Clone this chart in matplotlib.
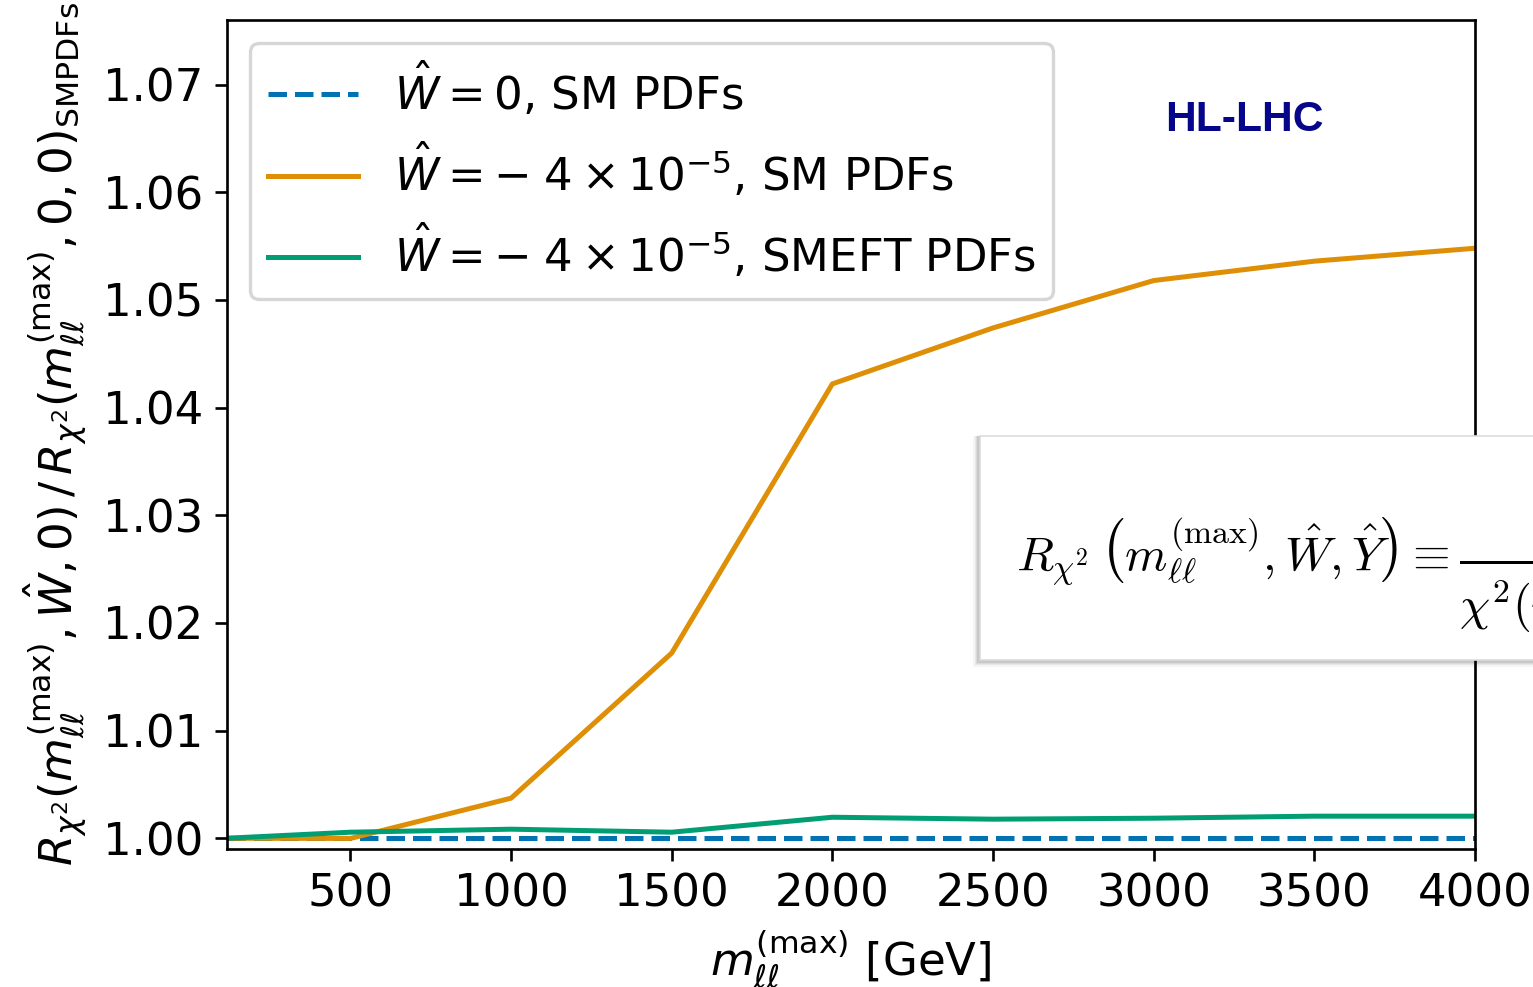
import numpy as np
import matplotlib
matplotlib.use("Agg")
import matplotlib.pyplot as plt
from matplotlib.patches import Rectangle

# ----------------------------------------
# Data
# ----------------------------------------
m_max = [116, 500, 1000, 1500, 2000, 2500, 3000, 3500, 4000]
r_sm_w0 = [1.0, 1.0, 1.0, 1.0, 1.0, 1.0, 1.0, 1.0, 1.0]
r_sm_w = [1.0, 0.99998, 1.00372, 1.0172, 1.0422, 1.0474, 1.0518, 1.0536, 1.0548]
r_smeft_w = [1.0, 1.00056, 1.00084, 1.00056, 1.00195, 1.00177, 1.00186, 1.00205, 1.00205]

labels = [
    r"$\hat{W} = 0$, SM PDFs",
    r"$\hat{W} = -\;4\times10^{-5}$, SM PDFs",
    r"$\hat{W} = -\;4\times10^{-5}$, SMEFT PDFs",
]
colors = ["#0173b2", "#de8f05", "#029e73"]

# ----------------------------------------
# Plotting
# ----------------------------------------
plt.rcParams["font.size"] = 13.5
fig = plt.figure(figsize=(1533 / 240, 987 / 240), dpi=240)
ax = fig.add_axes([227 / 1533, 1 - 849 / 987, 1248 / 1533, 829 / 987])

ax.plot(m_max, r_sm_w0, color=colors[0], ls="--", lw=1.5, label=labels[0])
ax.plot(m_max, r_sm_w, color=colors[1], lw=1.5, label=labels[1])
ax.plot(m_max, r_smeft_w, color=colors[2], lw=1.5, label=labels[2])

ax.set_xlim(m_max[0], m_max[-1])
ax.set_ylim(0.999, 1.076)
ax.set_xticks([500, 1000, 1500, 2000, 2500, 3000, 3500, 4000])
ax.set_yticks([1.00, 1.01, 1.02, 1.03, 1.04, 1.05, 1.06, 1.07])

ax.set_xlabel(r"$m_{\ell\ell}^{(\mathrm{max})}$ [GeV]")
ax.set_ylabel(r"$R_{\chi^2}(m_{\ell\ell}^{(\mathrm{max})}, \hat{W}, 0)\,/\,"
              r"R_{\chi^2}(m_{\ell\ell}^{(\mathrm{max})}, 0, 0)_{\mathrm{SM PDFs}}$")
ax.legend(loc="upper left")

ax.text(0.815, 0.879, "HL-LHC", transform=ax.transAxes, ha="center", va="center",
        fontsize=12.8, fontweight="bold", color="#06068a", family="Liberation Sans")

# formula box overlaid on the right (cut by the figure edge)
x0, y0, h = 980 / 1533, 1 - 660 / 987, 224 / 987
for i, a in enumerate([0.04, 0.05, 0.06, 0.08, 0.10]):
    d = (5 - i) * 1.3
    fig.patches.append(Rectangle((x0 - d / 1533, y0 - d / 987), 0.5, h + d / 987,
                                 transform=fig.transFigure, facecolor="black",
                                 edgecolor="none", alpha=a, zorder=5))
fig.patches.append(Rectangle((x0, y0), 0.5, h, transform=fig.transFigure,
                             facecolor="white", edgecolor="#dddddd", lw=0.5, zorder=6))
fig.text(1016 / 1533, 1 - 560 / 987,
         r"$R_{\chi^2}\,\left(m_{\ell\ell}^{(\max)}, \hat{W}, \hat{Y}\right) \equiv "
         r"\dfrac{\chi^2(m_{\ell\ell}^{(\max)}, \hat{W}, \hat{Y})}"
         r"{\chi^2(m_{\ell\ell}^{(\max)}, \hat{W}=0, \hat{Y}=0)}$",
         math_fontfamily="cm", fontsize=14.5, ha="left", va="center", zorder=7)

fig.savefig("out.png", dpi=240)
